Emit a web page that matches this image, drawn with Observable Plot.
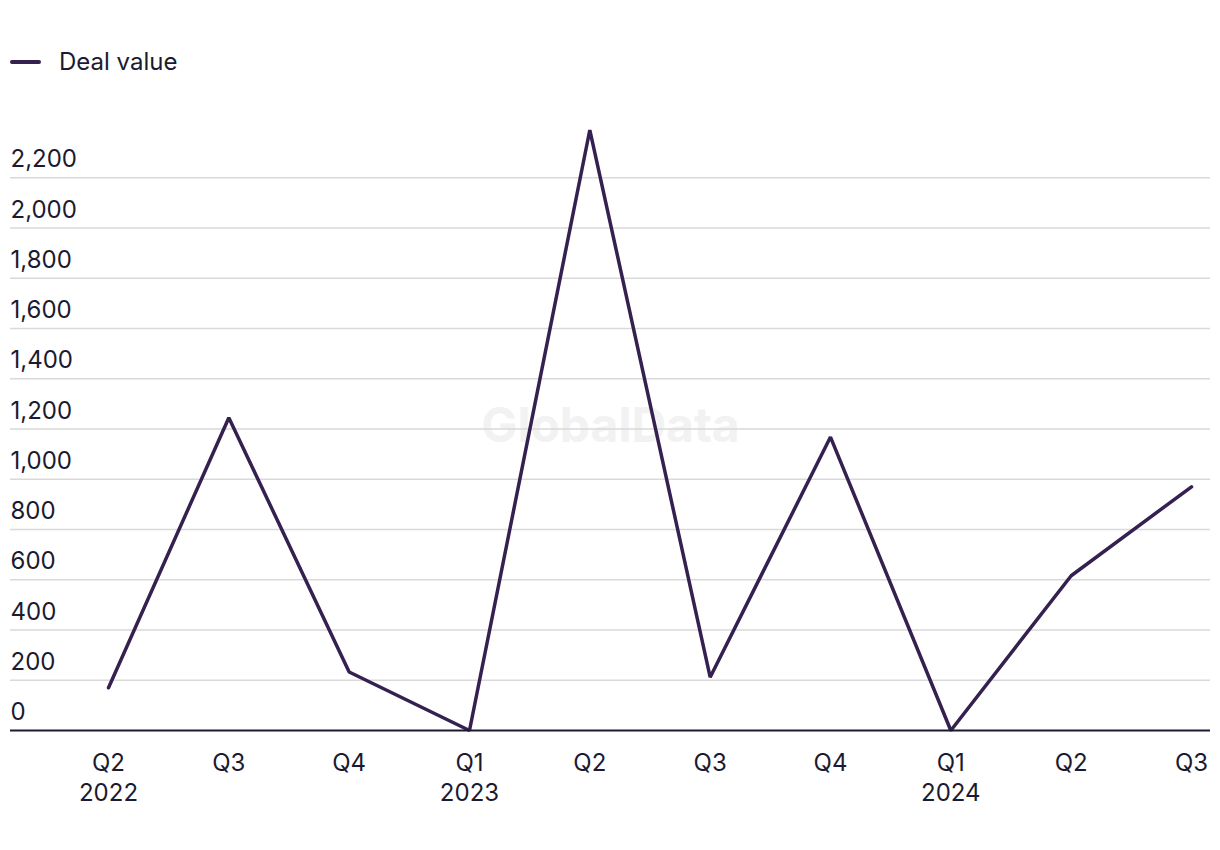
<!DOCTYPE html>
<html>
<head>
<meta charset="utf-8">
<script src="https://cdn.jsdelivr.net/npm/d3@7"></script>
<script src="https://cdn.jsdelivr.net/npm/@observablehq/plot@0.6"></script>
<style>
  html, body { margin: 0; padding: 0; background: #fff; }
  body { width: 1220px; height: 850px; font-family: Inter, "Noto Sans", sans-serif; color: #1b1a30; }
  #legend { position: relative; height: 100px; }
  #legend .swatch { position: absolute; left: 10px; top: 60px; width: 31px; height: 4px; border-radius: 2px; background: #35214f; }
  #legend .label { position: absolute; left: 59px; top: 47px; font-size: 24px; line-height: 30px; }
</style>
</head>
<body>
<div id="legend"><span class="swatch"></span><span class="label">Deal value</span></div>
<div id="chart"></div>
<script>
// Data
const periods = ["Q2 2022", "Q3 2022", "Q4 2022", "Q1 2023", "Q2 2023", "Q3 2023", "Q4 2023", "Q1 2024", "Q2 2024", "Q3 2024"];
const dealValue = [170, 1245, 233, 0, 2390, 212, 1168, 0, 616, 970];
const yTicks = [0, 200, 400, 600, 800, 1000, 1200, 1400, 1600, 1800, 2000, 2200];

const rows = periods.map((p, i) => ({i, period: p, value: dealValue[i]}));
const tickLabel = (p, i) => {
  const [q, y] = p.split(" ");
  return (i === 0 || q === "Q1") ? q + "\n" + y : q;
};
const fmt = d3.format(",");

const chart = Plot.plot({
  width: 1220,
  height: 730,
  marginLeft: 10,
  marginRight: 10,
  marginTop: 27,
  marginBottom: 100,
  style: {fontFamily: "Inter, 'Noto Sans', sans-serif", fontSize: "24px", color: "#1b1a30", background: "#fff"},
  x: {type: "linear", domain: [-0.8144, 9.158], axis: null},
  y: {domain: [0, 2400], axis: null},
  marks: [
    Plot.text(["GlobalData"], {frameAnchor: "middle", y: [1210], text: d => d, fontSize: 48, fontWeight: "bold", fill: "#f2f2f2"}),
    Plot.ruleY(yTicks.filter(d => d > 0), {stroke: "#d9d9d9", strokeWidth: 1.5}),
    Plot.text(yTicks, {y: d => d, text: d => fmt(d), frameAnchor: "left", textAnchor: "start", dy: -18, fontSize: 24, fill: "#1b1a30"}),
    Plot.line(rows, {x: "i", y: "value", stroke: "#35214f", strokeWidth: 3.5, strokeLinejoin: "miter", curve: "linear"}),
    Plot.ruleY([0], {stroke: "#1b1a30", strokeWidth: 2}),
    Plot.text(rows, {x: "i", text: d => tickLabel(d.period, d.i), frameAnchor: "bottom", lineAnchor: "top", dy: 19, lineHeight: 1.25, fontSize: 24, fill: "#1b1a30"})
  ]
});
document.getElementById("chart").appendChild(chart);
</script>
</body>
</html>
